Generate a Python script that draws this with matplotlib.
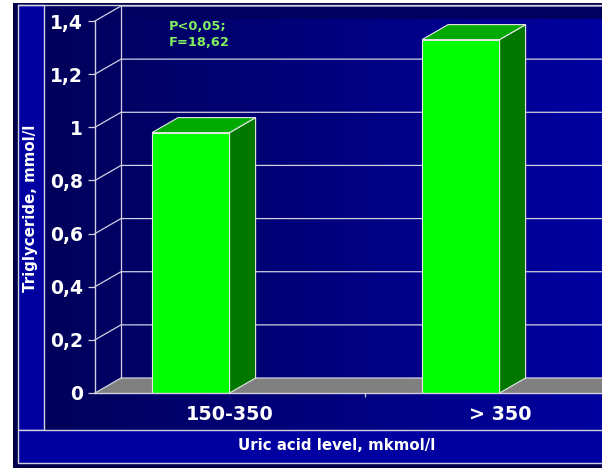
import numpy as np
import matplotlib
matplotlib.use('Agg')
import matplotlib.pyplot as plt
from matplotlib.patches import Polygon, Rectangle
from matplotlib.colors import LinearSegmentedColormap

# ==============================================================================
# Datos
# ==============================================================================
categorias = ['150-350', '> 350']
trigliceridos = [0.98, 1.33]
yticks_vals = [0, 0.2, 0.4, 0.6, 0.8, 1.0, 1.2, 1.4]
ytick_labels = ['0', '0,2', '0,4', '0,6', '0,8', '1', '1,2', '1,4']
texto_stats = ['P<0,05;', 'F=18,62']
titulo_x = 'Uric acid level, mkmol/l'
titulo_y = 'Triglyceride, mmol/l'

# Colores
c_borde = '#d0d0e0'
c_frente = '#00ff00'
c_tope = '#00aa00'
c_lado = '#007800'
c_piso = '#808080'

W, H = 602, 468
fig = plt.figure(figsize=(W / 100, H / 100), dpi=100)
fig.patch.set_facecolor('white')

# ==============================================================================
# Fondo y marcos (coordenadas en pixeles)
# ==============================================================================
bg = fig.add_axes([0, 0, 1, 1])
bg.set_xlim(0, W)
bg.set_ylim(H, 0)
bg.axis('off')
bg.add_patch(Rectangle((13, 3), W - 13, H - 3, color='#00004a', lw=0, zorder=0))
grad = np.linspace(0, 1, 256).reshape(1, -1)
cmap = LinearSegmentedColormap.from_list('fondo', ['#00005a', '#0000a0'])
bg.imshow(grad, extent=(44, W, 430, 19), aspect='auto', cmap=cmap, zorder=1)
bg.add_patch(Rectangle((44, 5), W - 44, 14, color='#000060', lw=0, zorder=1))
bg.add_patch(Rectangle((18, 5), 26, 425, facecolor='#0000a0',
                       edgecolor=c_borde, lw=1, zorder=2))
bg.add_patch(Rectangle((18, 430), W, 33, facecolor='#0000a0',
                       edgecolor=c_borde, lw=1, zorder=2))
bg.plot([18, W], [5, 5], color=c_borde, lw=1, zorder=2)

bg.text(30.5, 208, titulo_y, rotation=90, ha='center', va='center',
        color='white', fontweight='bold', fontsize=10.8, zorder=3)
bg.text(337, 446, titulo_x, ha='center', va='center',
        color='white', fontweight='bold', fontsize=10.8, zorder=3)
for k, t in enumerate(texto_stats):
    bg.text(169, 27 + 16 * k, t, ha='left', va='center', color='#80f060',
            fontweight='bold', fontsize=9.4, zorder=3)

# ==============================================================================
# Ejes principales (plano frontal)
# ==============================================================================
x0_px, x1_px = 95, 635
y0_px, y1_px = 393, 21
ax = fig.add_axes([x0_px / W, (H - y0_px) / H,
                   (x1_px - x0_px) / W, (y0_px - y1_px) / H])
ax.set_xlim(-0.5, 1.5)
ax.set_ylim(0, 1.4)
ax.patch.set_alpha(0)

# Profundidad del efecto 3D en unidades de datos
prof_x = 26 * 2.0 / (x1_px - x0_px)
prof_y = 15 * 1.4 / (y0_px - y1_px)

# Piso
ax.add_patch(Polygon([(-0.5, 0), (1.5, 0), (1.5 + prof_x, prof_y),
                      (-0.5 + prof_x, prof_y)], closed=True,
                     facecolor=c_piso, edgecolor='none', zorder=0.5,
                     clip_on=False))

# Lineas de la grilla (pared lateral y pared de fondo)
for v in yticks_vals:
    ax.plot([-0.5, -0.5 + prof_x, 1.5 + prof_x], [v, v + prof_y, v + prof_y],
            color=c_borde, lw=0.9, clip_on=False, zorder=1)
ax.plot([-0.5 + prof_x] * 2, [prof_y, 1.4 + prof_y], color=c_borde, lw=0.9,
        clip_on=False, zorder=1)

# Barras
desfase = -0.145
ancho = 0.287
pos = np.arange(len(categorias)) + desfase
ax.bar(pos, trigliceridos, ancho, color=c_frente, edgecolor='#e8e8e8',
       lw=0.8, zorder=3)
for p, v in zip(pos, trigliceridos):
    xa, xb = p - ancho / 2, p + ancho / 2
    lado = Polygon([(xb, 0), (xb + prof_x, prof_y), (xb + prof_x, v + prof_y),
                    (xb, v)], closed=True, facecolor=c_lado,
                   edgecolor='#e8e8e8', lw=0.8, zorder=3, clip_on=False)
    tope = Polygon([(xa, v), (xb, v), (xb + prof_x, v + prof_y),
                    (xa + prof_x, v + prof_y)], closed=True, facecolor=c_tope,
                   edgecolor='#e8e8e8', lw=0.8, zorder=3, clip_on=False)
    ax.add_patch(lado)
    ax.add_patch(tope)

# Ejes y etiquetas
for s in ['top', 'right']:
    ax.spines[s].set_visible(False)
for s in ['left', 'bottom']:
    ax.spines[s].set_color(c_borde)
    ax.spines[s].set_linewidth(1.0)
    ax.spines[s].set_zorder(4)

ax.set_yticks(yticks_vals, ytick_labels)
ax.tick_params(axis='y', length=5, width=0.9, color=c_borde,
               labelcolor='white', labelsize=13.5, pad=3.5)
ax.set_xticks(range(len(categorias)), categorias)
ax.set_xticks([0.5], minor=True)
ax.tick_params(axis='x', which='major', length=0, labelcolor='white',
               labelsize=13.8, pad=9)
ax.tick_params(axis='x', which='minor', length=3, width=0.9, color=c_borde)
for lbl in ax.get_yticklabels() + ax.get_xticklabels():
    lbl.set_fontweight('bold')

plt.savefig('out.png', dpi=100)
